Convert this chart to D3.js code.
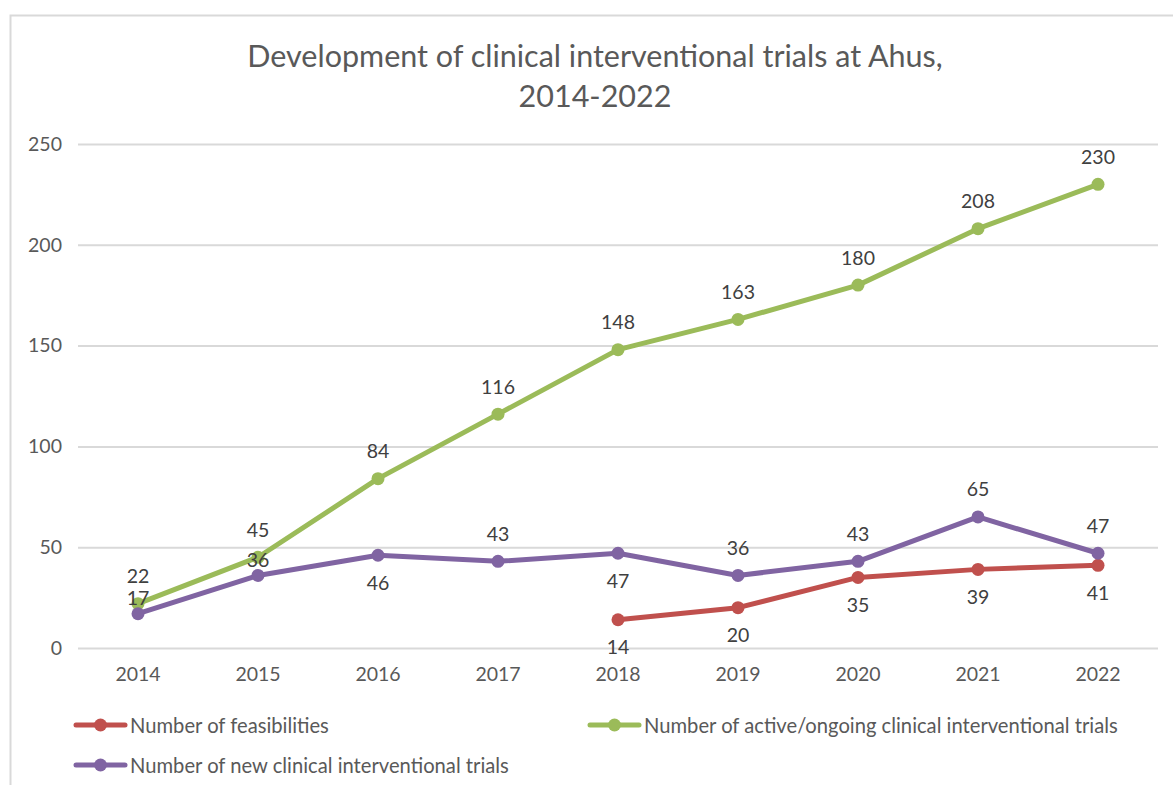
<!DOCTYPE html>
<html>
<head>
<meta charset="utf-8">
<script src="https://cdn.jsdelivr.net/npm/d3@7"></script>
<style>
  html, body { margin: 0; padding: 0; background: #fff; }
  svg { display: block; font-family: Lato, "Open Sans", sans-serif; }
</style>
</head>
<body>
<svg id="chart" width="1173" height="785"></svg>
<script>
  const years = ["2014", "2015", "2016", "2017", "2018", "2019", "2020", "2021", "2022"];
  const feasibilities = [null, null, null, null, 14, 20, 35, 39, 41];
  const activeTrials = [22, 45, 84, 116, 148, 163, 180, 208, 230];
  const newTrials = [17, 36, 46, 43, 47, 36, 43, 65, 47];
  const yTicks = [0, 50, 100, 150, 200, 250];
  const titleLines = ["Development of clinical interventional trials at Ahus,", "2014-2022"];

  // where each data label sits relative to its point
  const feasLabelSide = ["below", "below", "below", "below", "below", "below", "below", "below", "below"];
  const activeLabelSide = ["above", "above", "above", "above", "above", "above", "above", "above", "above"];
  const newLabelSide = ["near", "near", "below", "above", "below", "above", "above", "above", "above"];

  const series = [
    { name: "Number of feasibilities", values: feasibilities, sides: feasLabelSide, color: "#C0504D" },
    { name: "Number of active/ongoing clinical interventional trials", values: activeTrials, sides: activeLabelSide, color: "#9BBB59" },
    { name: "Number of new clinical interventional trials", values: newTrials, sides: newLabelSide, color: "#8064A2" }
  ];

  const svg = d3.select("#chart");
  const plot = { left: 78, right: 1158, top: 144, bottom: 648 };

  // chart frame
  svg.append("rect")
    .attr("x", 10.5).attr("y", 15.5)
    .attr("width", 1200).attr("height", 800)
    .attr("fill", "#fff").attr("stroke", "#d9d9d9").attr("stroke-width", 2);

  // title
  svg.append("text")
    .attr("x", 595).attr("y", 67)
    .attr("text-anchor", "middle")
    .attr("fill", "#595959")
    .style("font-size", "30.5px")
    .selectAll("tspan")
    .data(titleLines)
    .join("tspan")
    .attr("x", 595)
    .attr("dy", (d, i) => (i ? 40 : 0))
    .text((d) => d);

  const x = d3.scaleBand().domain(years).range([plot.left, plot.right]);
  const y = d3.scaleLinear().domain([0, 250]).range([plot.bottom, plot.top]);
  const cx = (d) => x(d) + x.bandwidth() / 2;

  // gridlines + y labels
  const yAxis = svg.append("g")
    .attr("transform", `translate(${plot.left},0)`)
    .call(d3.axisLeft(y).tickValues(yTicks).tickSize(-(plot.right - plot.left)).tickPadding(16));
  yAxis.select(".domain").remove();
  yAxis.selectAll(".tick line").attr("stroke", "#d9d9d9").attr("stroke-width", 2);
  yAxis.selectAll(".tick text")
    .attr("fill", "#595959")
    .style("font-size", "19.5px")
    .style("font-family", "Lato, sans-serif");

  // x labels
  const xAxis = svg.append("g")
    .attr("transform", `translate(0,${plot.bottom})`)
    .call(d3.axisBottom(x).tickSize(0).tickPadding(19));
  xAxis.select(".domain").remove();
  xAxis.selectAll(".tick text")
    .attr("fill", "#595959")
    .style("font-size", "19.5px")
    .style("font-family", "Lato, sans-serif");

  const line = d3.line()
    .defined((d) => d.v != null)
    .x((d) => cx(d.year))
    .y((d) => y(d.v));

  const labelOffset = { above: -28, below: 27, near: -16 };

  series.forEach((s) => {
    const pts = years.map((yr, i) => ({ year: yr, v: s.values[i], side: s.sides[i] }));
    const valid = pts.filter((d) => d.v != null);
    const g = svg.append("g");

    g.append("path")
      .datum(pts)
      .attr("d", line)
      .attr("fill", "none")
      .attr("stroke", s.color)
      .attr("stroke-width", 5)
      .attr("stroke-linejoin", "round")
      .attr("stroke-linecap", "round");

    g.selectAll("circle")
      .data(valid)
      .join("circle")
      .attr("cx", (d) => cx(d.year))
      .attr("cy", (d) => y(d.v))
      .attr("r", 6.5)
      .attr("fill", s.color);

    g.selectAll("text")
      .data(valid)
      .join("text")
      .attr("x", (d) => cx(d.year))
      .attr("y", (d) => y(d.v) + labelOffset[d.side])
      .attr("text-anchor", "middle")
      .attr("dominant-baseline", "central")
      .attr("fill", "#404040")
      .style("font-size", "19.5px")
      .text((d) => d.v);
  });

  // legend
  const legendPos = [[76, 725], [590, 725], [76, 765]];
  series.forEach((s, i) => {
    const [lx, ly] = legendPos[i];
    const g = svg.append("g").attr("transform", `translate(${lx},${ly})`);
    g.append("line")
      .attr("x1", 0).attr("x2", 49)
      .attr("stroke", s.color).attr("stroke-width", 5).attr("stroke-linecap", "round");
    g.append("circle").attr("cx", 24.5).attr("r", 6.5).attr("fill", s.color);
    g.append("text")
      .attr("x", 54)
      .attr("dominant-baseline", "central")
      .attr("fill", "#595959")
      .style("font-size", "20.2px")
      .text(s.name);
  });
</script>
</body>
</html>
